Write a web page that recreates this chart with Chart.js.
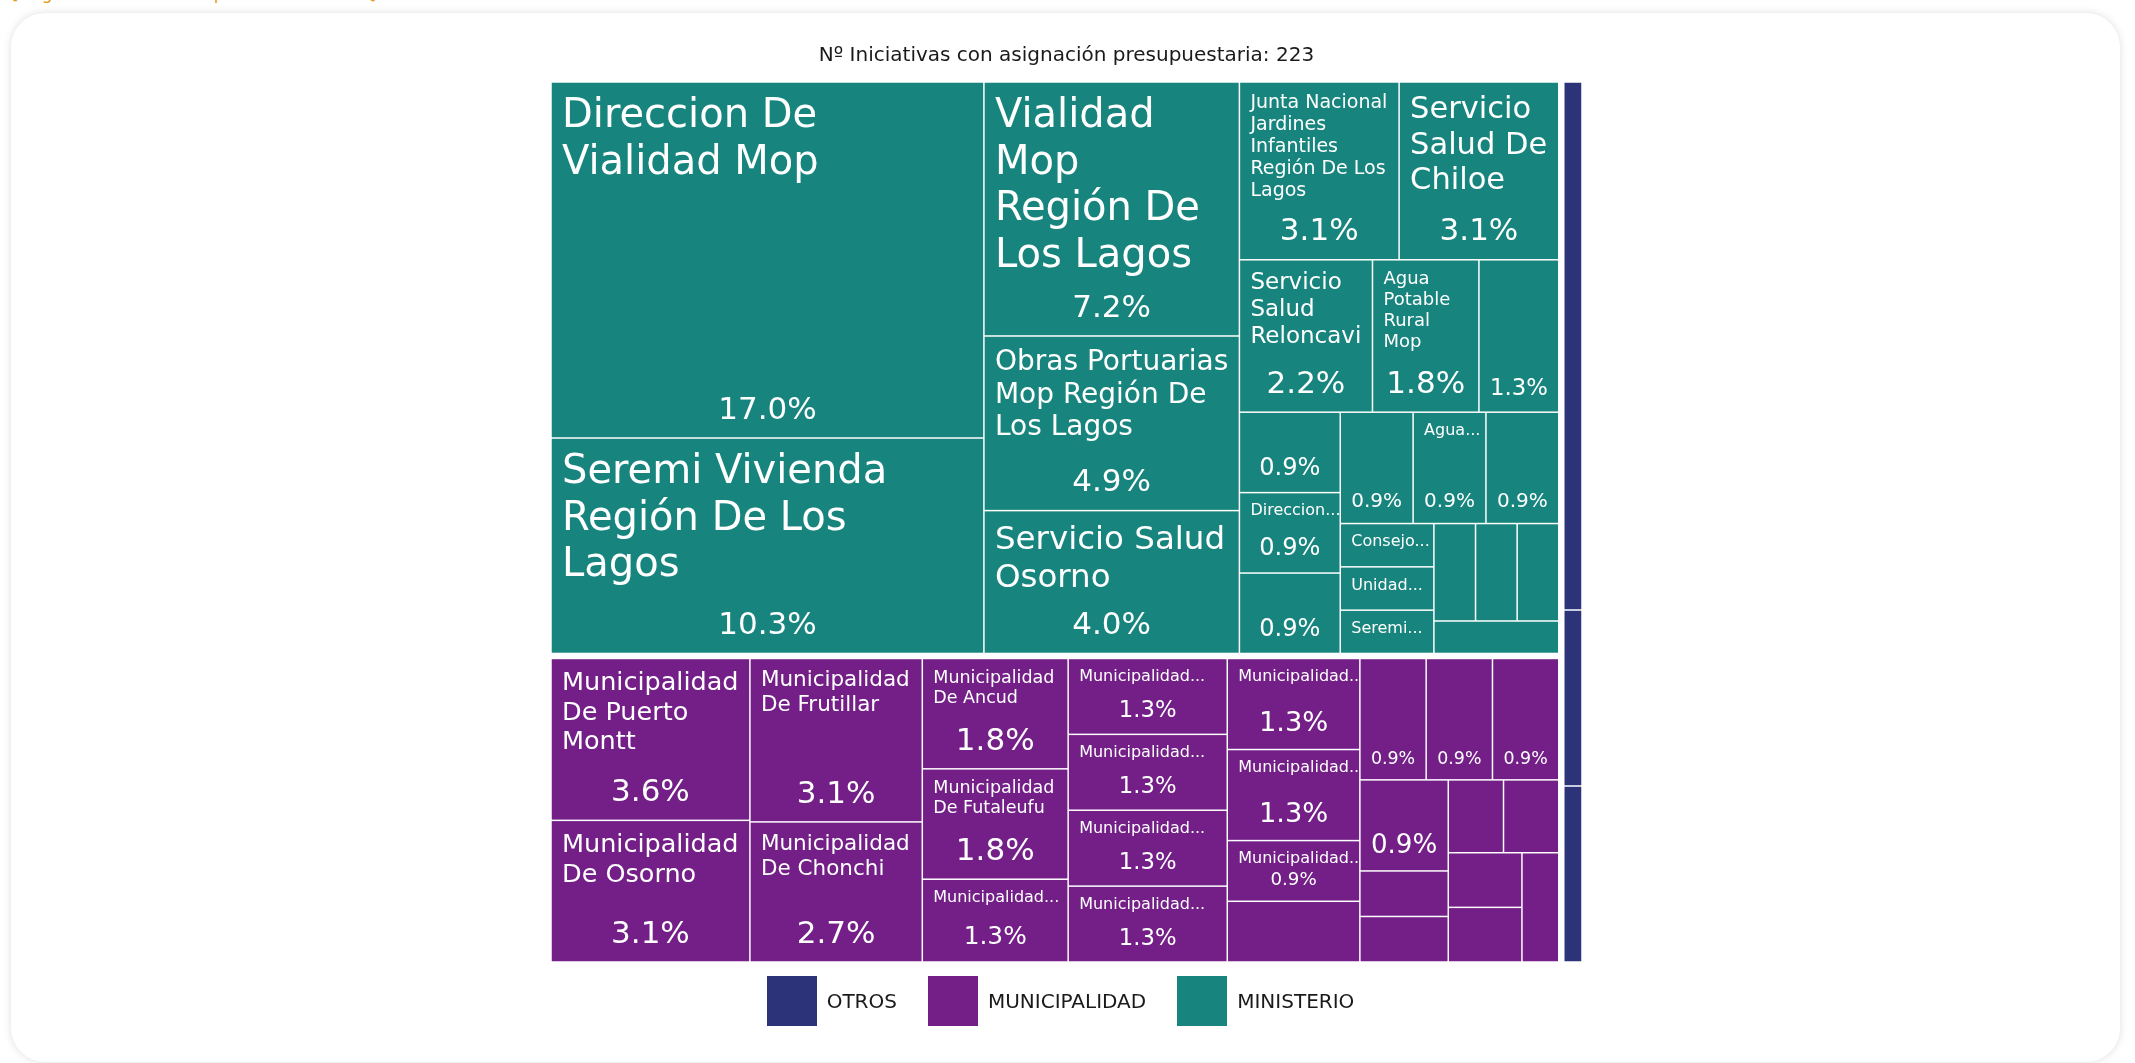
<!DOCTYPE html>
<html>
<head>
<meta charset="utf-8">
<script src="https://cdn.jsdelivr.net/npm/chart.js@4.4.1/dist/chart.umd.min.js"></script>
<style>
  html, body { margin: 0; padding: 0; background: #fff; font-family: "DejaVu Sans", sans-serif; overflow: hidden; }
  .top-note { position: absolute; left: 12px; top: -17px; color: #e39b22; font-size: 17px; white-space: nowrap; }
  .card { position: absolute; left: 11px; top: 13px; width: 2109px; height: 1049px; background: #fff;
          border-radius: 34px; box-shadow: 0 0 9px rgba(0,0,0,0.13); }
  .chart-box { position: absolute; left: 0; top: 0; width: 2109px; height: 1049px; }
  .legend-list { position: absolute; left: -5px; top: 963px; width: 2109px; margin: 0; padding: 0; list-style: none;
                 display: flex; justify-content: center; gap: 31px; }
  .legend-list li { display: flex; align-items: center; height: 50px; }
  .legend-box { width: 50px; height: 50px; display: inline-block; margin-right: 10px; }
  .legend-text { font-size: 20px; color: #1a1a1a; }
</style>
</head>
<body>
<div class="top-note">[Haga clic en un sector para ver el detalle]</div>
<div class="card">
  <div class="chart-box"><canvas id="treemap"></canvas></div>
  <div id="legend-container"></div>
</div>
<script>
var title = 'Nº Iniciativas con asignación presupuestaria: 223';

// groups, in legend order
var groupNames = ['OTROS', 'MUNICIPALIDAD', 'MINISTERIO'];
var groupColors = ['#2c3379', '#731f87', '#17857e'];

// nº de iniciativas por institucion (null = sin etiqueta, '' = solo porcentaje)
var ministerioNames = [
  'Direccion De Vialidad Mop', 'Seremi Vivienda Región De Los Lagos', 'Vialidad Mop Región De Los Lagos',
  'Obras Portuarias Mop Región De Los Lagos', 'Servicio Salud Osorno',
  'Junta Nacional Jardines Infantiles Región De Los Lagos', 'Servicio Salud De Chiloe',
  'Servicio Salud Reloncavi', 'Agua Potable Rural Mop', '',
  '', 'Direccion...', '', '', 'Agua...', '',
  'Consejo...', 'Unidad...', 'Seremi...', null, null, null, null
];
var ministerioValues = [38, 23, 16, 11, 9, 7, 7, 5, 4, 3, 2, 2, 2, 2, 2, 2, 1, 1, 1, 1, 1, 1, 1];

var municipalidadNames = [
  'Municipalidad De Puerto Montt', 'Municipalidad De Osorno', 'Municipalidad De Frutillar',
  'Municipalidad De Chonchi', 'Municipalidad De Ancud', 'Municipalidad De Futaleufu',
  'Municipalidad...', 'Municipalidad...', 'Municipalidad...', 'Municipalidad...',
  'Municipalidad...', 'Municipalidad...', 'Municipalidad...',
  'Municipalidad...', null, '', '', '', '',
  null, null, null, null, null, null, null
];
var municipalidadValues = [8, 7, 7, 6, 4, 4, 3, 3, 3, 3, 3, 3, 3, 2, 2, 2, 2, 2, 2, 1, 1, 1, 1, 1, 1, 1];

var otrosNames = [null, null, null];
var otrosValues = [3, 1, 1];

var groupItems = {
  'MINISTERIO': { names: ministerioNames, values: ministerioValues },
  'MUNICIPALIDAD': { names: municipalidadNames, values: municipalidadValues },
  'OTROS': { names: otrosNames, values: otrosValues }
};

function sum(a) { return a.reduce(function (s, v) { return s + v; }, 0); }
var total = sum(ministerioValues) + sum(municipalidadValues) + sum(otrosValues);

// squarified layout (golden ratio), same as d3.treemapSquarify
function squarify(items, x0, y0, x1, y1) {
  var ratio = (1 + Math.sqrt(5)) / 2;
  var value = sum(items.map(function (d) { return d.value; }));
  var out = [], i0 = 0, n = items.length;
  while (i0 < n) {
    var dx = x1 - x0, dy = y1 - y0, i1 = i0;
    var sumValue = items[i1++].value, minValue = sumValue, maxValue = sumValue;
    var alpha = Math.max(dy / dx, dx / dy) / (value * ratio);
    var beta = sumValue * sumValue * alpha;
    var minRatio = Math.max(maxValue / beta, beta / minValue);
    for (; i1 < n; ++i1) {
      var v = items[i1].value;
      sumValue += v;
      if (v < minValue) minValue = v;
      if (v > maxValue) maxValue = v;
      beta = sumValue * sumValue * alpha;
      var newRatio = Math.max(maxValue / beta, beta / minValue);
      if (newRatio > minRatio) { sumValue -= v; break; }
      minRatio = newRatio;
    }
    var row = items.slice(i0, i1), k;
    if (dx < dy) {
      var yb = y0 + dy * sumValue / value, x = x0;
      for (k = 0; k < row.length; k++) {
        var w = dx * row[k].value / sumValue;
        out.push({ d: row[k], x0: x, y0: y0, x1: x + w, y1: yb });
        x += w;
      }
      y0 = yb;
    } else {
      var xb = x0 + dx * sumValue / value, y = y0;
      for (k = 0; k < row.length; k++) {
        var h = dy * row[k].value / sumValue;
        out.push({ d: row[k], x0: x0, y0: y, x1: xb, y1: y + h });
        y += h;
      }
      x0 = xb;
    }
    value -= sumValue;
    i0 = i1;
  }
  return out;
}

var FONT = '"DejaVu Sans", sans-serif';
var PADX = 11, PADT = 8, PADB = 12, LH = 1.164;

function wrapText(ctx, text, maxW) {
  var words = text.split(' '), lines = [], cur = '';
  words.forEach(function (w) {
    var t = cur ? cur + ' ' + w : w;
    if (!cur || ctx.measureText(t).width <= maxW) cur = t;
    else { lines.push(cur); cur = w; }
  });
  if (cur) lines.push(cur);
  return lines;
}

// biggest font (16..40) whose wrapped name fits the width and leaves room for the %
function fitName(ctx, text, maxW, h) {
  var budget = h - 67;
  for (var s = 40; s >= 16; s -= 0.5) {
    ctx.font = s + 'px ' + FONT;
    var lines = wrapText(ctx, text, maxW);
    var widest = Math.max.apply(null, lines.map(function (l) { return ctx.measureText(l).width; }));
    if (widest <= maxW && lines.length * LH * s <= budget) return { s: s, lines: lines };
  }
  ctx.font = '16px ' + FONT;
  return { s: 16, lines: wrapText(ctx, text, maxW) };
}

function drawLabel(ctx, c) {
  var name = c.d.name;
  if (name === null) return;
  var w = c.x1 - c.x0, h = c.y1 - c.y0;
  var pct = (c.d.value / total * 100).toFixed(1) + '%';
  ctx.save();
  ctx.beginPath();
  ctx.rect(c.x0, c.y0, w, h);
  ctx.clip();
  ctx.fillStyle = '#ffffff';
  ctx.textBaseline = 'alphabetic';
  var nameBottom = c.y0 + PADT;
  if (name) {
    var fit = fitName(ctx, name, w - 2 * PADX, h);
    ctx.font = fit.s + 'px ' + FONT;
    ctx.textAlign = 'left';
    fit.lines.forEach(function (l, i) {
      ctx.fillText(l, c.x0 + PADX, c.y0 + PADT + 0.928 * fit.s + i * LH * fit.s);
    });
    nameBottom = c.y0 + PADT + fit.lines.length * LH * fit.s;
  }
  ctx.font = '100px ' + FONT;
  var unit = ctx.measureText(pct).width / 100;
  var ps = Math.min(31, (w - 2 * PADX) / unit, 0.3 * h);
  var top = c.y1 - PADB - LH * ps;
  if (ps >= 12 && top >= nameBottom - 2) {
    ctx.font = ps + 'px ' + FONT;
    ctx.textAlign = 'center';
    ctx.fillText(pct, (c.x0 + c.x1) / 2, c.y1 - PADB - 0.236 * ps);
  }
  ctx.restore();
}

var treemapPlugin = {
  id: 'treemapCells',
  afterDatasetsDraw: function (chart) {
    var ctx = chart.ctx, xs = chart.scales.x, ys = chart.scales.y;
    var left = xs.getPixelForValue(0), right = xs.getPixelForValue(1);
    var topPx = ys.getPixelForValue(1), bottom = ys.getPixelForValue(0);
    var gap = 5, half = gap / 2;

    var groups = groupNames.map(function (g, i) {
      return { key: g, color: groupColors[i], value: sum(groupItems[g].values) };
    }).sort(function (a, b) { return b.value - a.value; });

    var groupRects = squarify(groups, left - half, topPx - half, right + half, bottom + half);
    groupRects.forEach(function (gr) {
      var g = gr.d, src = groupItems[g.key];
      var items = src.values.map(function (v, i) { return { value: v, name: src.names[i] }; });
      var cells = squarify(items, gr.x0 + half, gr.y0 + half, gr.x1 - half, gr.y1 - half);
      cells.forEach(function (c) {
        ctx.fillStyle = g.color;
        ctx.fillRect(c.x0 + 0.75, c.y0 + 0.75, c.x1 - c.x0 - 1.5, c.y1 - c.y0 - 1.5);
      });
      cells.forEach(function (c) { drawLabel(ctx, c); });
    });
  }
};

var ctx = document.getElementById('treemap').getContext('2d');
var myTreemap = new Chart(ctx, {
  type: 'scatter',
  data: {
    datasets: groupNames.map(function (g, i) {
      return { label: g, data: [], backgroundColor: groupColors[i] };
    })
  },
  options: {
    responsive: true,
    maintainAspectRatio: false,
    animation: false,
    layout: { padding: { left: 540, right: 538, top: 0, bottom: 100 } },
    scales: {
      x: { type: 'linear', min: 0, max: 1, display: false },
      y: { type: 'linear', min: 0, max: 1, display: false }
    },
    plugins: {
      legend: { display: false },
      tooltip: { enabled: false },
      title: {
        display: true,
        text: title,
        color: '#1a1a1a',
        font: { family: 'DejaVu Sans', size: 20, weight: 'normal' },
        padding: { top: 31, bottom: 14 }
      }
    }
  },
  plugins: [treemapPlugin]
});

// Manually create and append legend HTML
var legendContainer = document.getElementById('legend-container');
legendContainer.innerHTML = '<ul class="legend-list">' + groupNames.map(function (g, i) {
  return '<li><span class="legend-box" style="background-color:' + groupColors[i] + ';"></span>' +
         '<span class="legend-text">' + g + '</span></li>';
}).join('') + '</ul>';
</script>
</body>
</html>
